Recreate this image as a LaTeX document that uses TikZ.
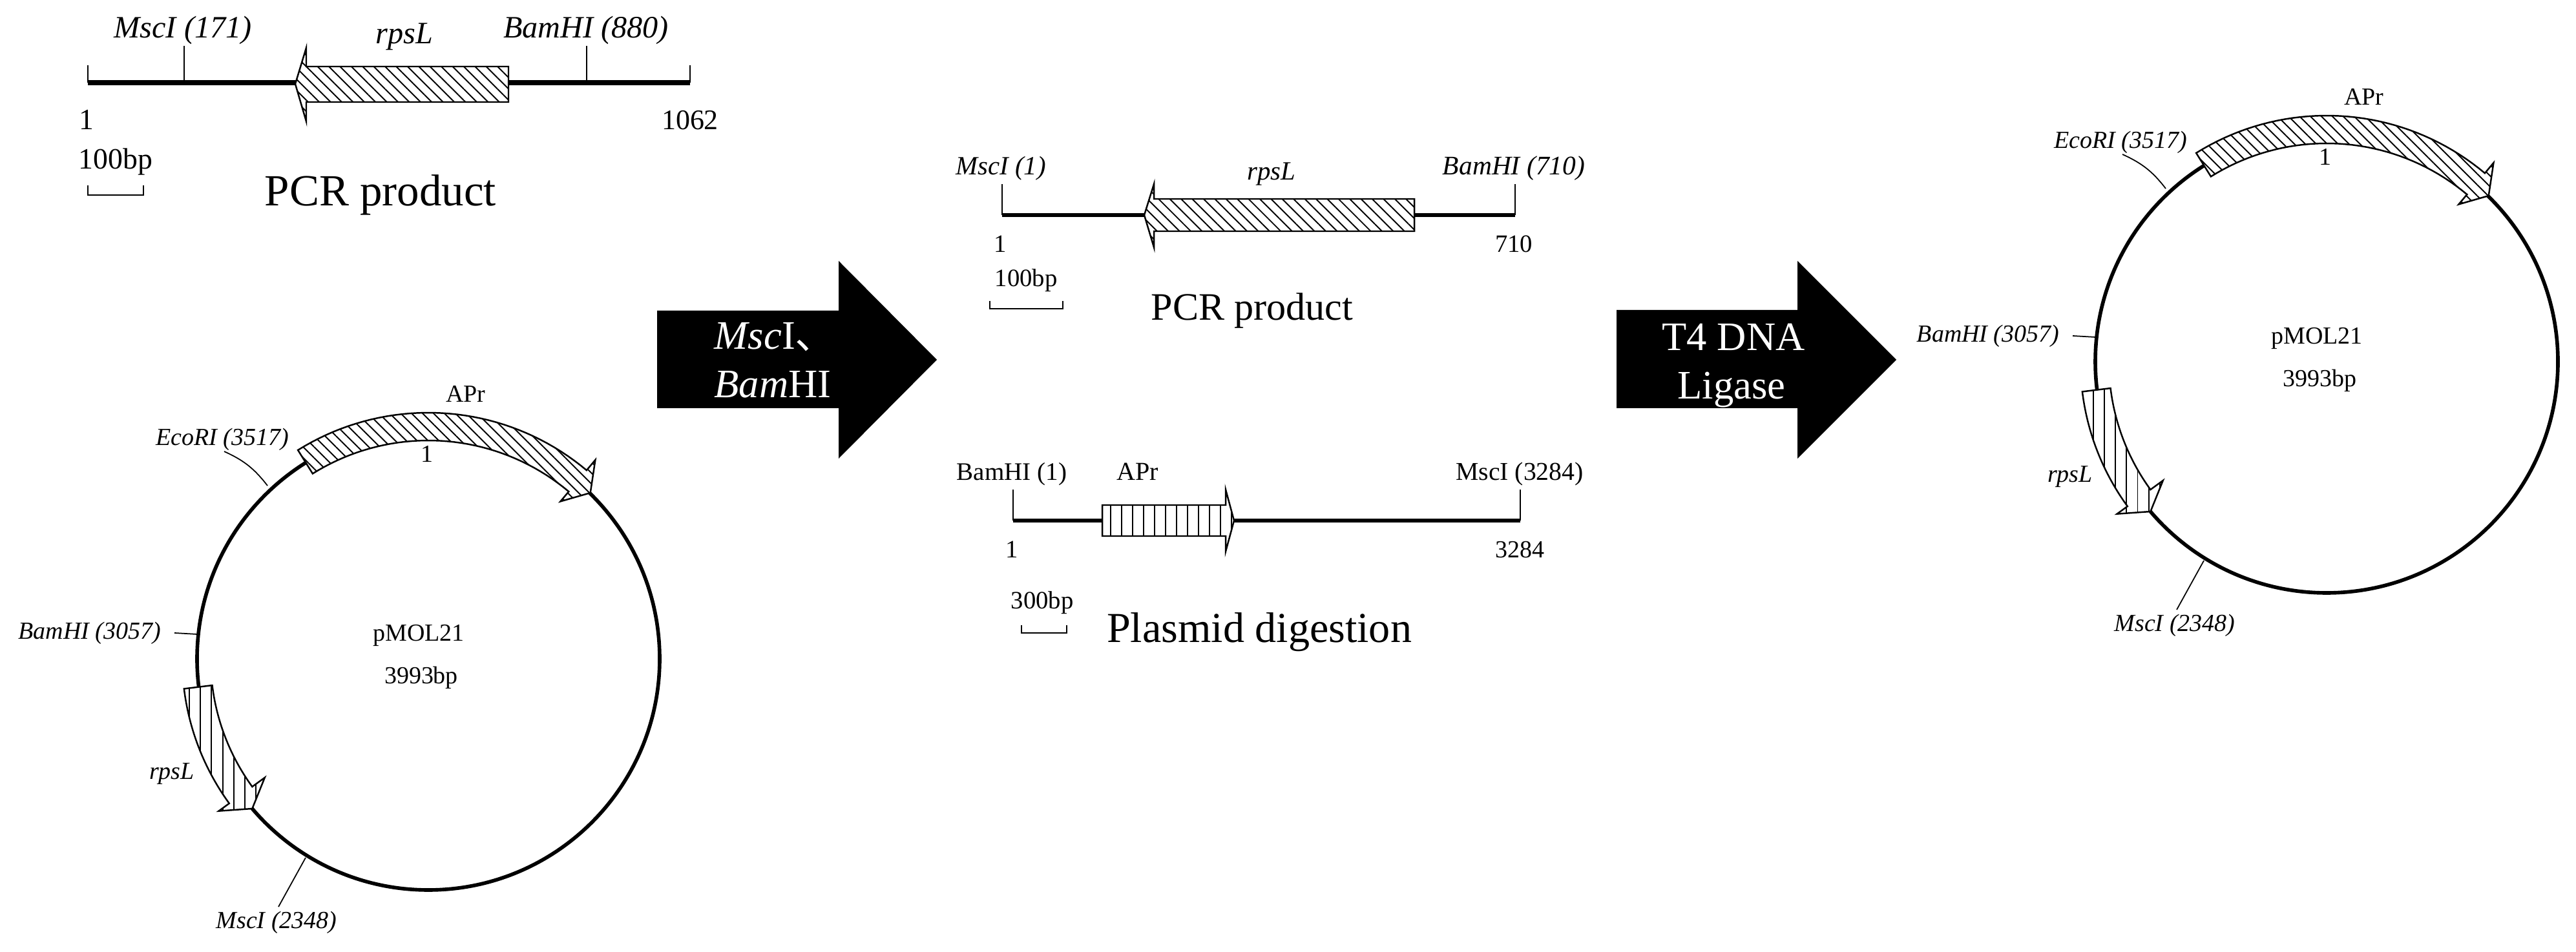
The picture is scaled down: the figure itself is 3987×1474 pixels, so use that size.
\documentclass[tikz,border=0pt]{standalone}
\usepackage{fontspec}
\setmainfont{Liberation Serif}
\newfontfamily\cjk{Noto Sans CJK SC}
\usetikzlibrary{patterns.meta}
\newcommand{\pxfont}[1]{\fontsize{#1}{#1}\selectfont}

\begin{document}
\begin{tikzpicture}[
  x=0.01cm, y=-0.01cm,
  lbl/.style={inner sep=0, anchor=base, font=\pxfont{#1}},
  lbl/.default=10.8,
  dna/.style={line width=#1, line cap=butt},
  dna/.default=1.5pt,
  tickline/.style={line width=0.7pt},
  gene/.style={draw, line width=0.7pt, fill=white},
  hatchdown/.style={postaction={pattern={Lines[angle=-45, distance=#1, line width=0.55pt]}}},
  hatchup/.style={postaction={pattern={Lines[angle=90, distance=#1, line width=0.55pt]}}},
  bigarrow/.style={fill=black},
  arrowtext/.style={inner sep=0, text=white, font=\pxfont{17.8}, align=#1},
]
\useasboundingbox (0,0) rectangle (3987,1474);

% PCR product, before digestion
\coordinate (a1) at (136,128);
\coordinate (a2) at (1068,128);
\coordinate (a3) at (285,128);
\coordinate (a4) at (908,128);
\draw[dna=2.3pt] (a1) -- (a2);
\draw[tickline] (a1) -- ++(0,-27);
\draw[tickline] (a2) -- ++(0,-27);
\draw[tickline] (a3) -- ++(0,-57);
\draw[tickline] (a4) -- ++(0,-57);
\draw[gene, hatchdown=3.5pt] (787,103) -- (474,103) -- (474,74) -- (457,130) -- (474,188) -- (474,158) -- (787,158) -- cycle;
\node[lbl=13.7] (mscA) at (283,59) {\textit{MscI (171)}};
\node[lbl=13.7] (rpsA) at (626,68) {\textit{rpsL}};
\node[lbl=13.7] (bamA) at (907,59) {\textit{BamHI (880)}};
\node[lbl=13] (startA) at (134,201) {1};
\node[lbl=12.5] (endA) at (1068,201) {1062};
\node[lbl=13] (barA) at (179,262) {100bp};
\node[lbl=19.6] (titleA) at (589,319) {PCR product};
\draw[tickline] (136,287) |- (222,302) -- (222,287);

% MscI / BamHI step
\fill[bigarrow] (1017,481) -- (1298,481) -- (1298,404) -- (1450,557) -- (1298,710) -- (1298,632) -- (1017,632) -- cycle;
\node[arrowtext=left, anchor=base west] (enzA) at (1105,541) {\textit{Msc}I{\cjk 、}};
\node[arrowtext=left, anchor=base west] (enzB) at (1105,616) {\textit{Bam}HI};

% PCR product, digested
\coordinate (b1) at (1551,333);
\coordinate (b2) at (2345,333);
\draw[dna] (b1) -- (b2);
\draw[tickline] (b1) -- ++(0,-48);
\draw[tickline] (b2) -- ++(0,-48);
\draw[gene, hatchdown=3.5pt] (2189,308) -- (1786,308) -- (1786,285) -- (1771,333) -- (1786,383) -- (1786,358) -- (2189,358) -- cycle;
\node[lbl=11.6] (mscB) at (1549,271) {\textit{MscI (1)}};
\node[lbl=11.6] (rpsB) at (1968,279) {\textit{rpsL}};
\node[lbl=11.8] (bamB) at (2343,271) {\textit{BamHI (710)}};
\node[lbl=11] (startB) at (1548,391) {1};
\node[lbl=11] (endB) at (2343,391) {710};
\node[lbl=11] (barB) at (1588,444) {100bp};
\node[lbl=17.1] (titleB) at (1938,496) {PCR product};
\draw[tickline] (1532,466) |- (1645,478) -- (1645,466);

% plasmid, digested
\coordinate (c1) at (1568,806);
\coordinate (c2) at (2353,806);
\draw[dna] (c1) -- (c2);
\draw[tickline] (c1) -- ++(0,-48);
\draw[tickline] (c2) -- ++(0,-48);
\draw[gene, hatchup=4.84pt] (1706,782) -- (1897,782) -- (1897,758) -- (1910,806) -- (1897,854) -- (1897,830) -- (1706,830) -- cycle;
\node[lbl=11.1] (bamC) at (1566,744) {BamHI (1)};
\node[lbl=11.4] (aprC) at (1761,744) {APr};
\node[lbl=11.3] (mscC) at (2352,744) {MscI (3284)};
\node[lbl=11] (startC) at (1566,864) {1};
\node[lbl=10.8] (endC) at (2352,864) {3284};
\node[lbl=11] (barC) at (1613,943) {300bp};
\node[lbl=18.8] (titleC) at (1949,995) {Plasmid digestion};
\draw[tickline] (1581,968) |- (1651,980) -- (1651,968);

% T4 DNA Ligase step
\fill[bigarrow] (2502,480) -- (2782,480) -- (2782,404) -- (2935,557) -- (2782,710) -- (2782,632) -- (2502,632) -- cycle;
\node[arrowtext=center, anchor=base] (ligA) at (2683,543) {T4 DNA};
\node[arrowtext=center, anchor=base] (ligB) at (2680,618) {Ligase};

% the plasmid map is the same twice
\foreach \pn/\cx/\cy in {dig/663/1020, lig/3601/560} {
  \begin{scope}[shift={(\cx,\cy)}]
    \draw[line width=1.6pt] (0,0) circle[radius=358];
    \draw[gene, hatchdown=3.4pt]
      plot[domain=-122:-50, samples=40] ({381*cos(\x)},{381*sin(\x)})
      -- (-50:402) -- (-45.7:359) -- (-50:318) -- (-50:338)
      -- plot[domain=-50:-122, samples=40] ({338*cos(\x)},{338*sin(\x)}) -- cycle;
    \draw[gene, hatchup=4.9pt]
      plot[domain=173:144, samples=30] ({381*cos(\x)},{381*sin(\x)})
      -- (144:401) -- (139.6:358) -- (144:313) -- (144:337)
      -- plot[domain=144:173, samples=30] ({337*cos(\x)},{337*sin(\x)}) -- cycle;
    \coordinate (\pn eco1) at (-249,-268);
    \coordinate (\pn eco2) at (-316,-321);
    \coordinate (\pn bam1) at (-358,-38);
    \coordinate (\pn bam2) at (-393,-40);
    \coordinate (\pn msc1) at (-190,308);
    \coordinate (\pn msc2) at (-232,384);
    \draw[line width=0.5pt] (\pn eco1) to[bend right=14] (\pn eco2);
    \draw[line width=0.5pt] (\pn bam1) -- (\pn bam2);
    \draw[line width=0.5pt] (\pn msc1) -- (\pn msc2);
    \node[lbl] (\pn apr) at (58,-397) {APr};
    \node[lbl] (\pn one) at (-2,-304) {1};
    \node[lbl] (\pn eco) at (-319,-330) {\textit{EcoRI (3517)}};
    \node[lbl] (\pn bam) at (-524,-30) {\textit{BamHI (3057)}};
    \node[lbl] (\pn name) at (-15,-27) {pMOL21};
    \node[lbl] (\pn size) at (-11,39) {3993bp};
    \node[lbl] (\pn rps) at (-397,187) {\textit{rpsL}};
    \node[lbl] (\pn msc) at (-235,418) {\textit{MscI (2348)}};
  \end{scope}
}
\end{tikzpicture}
\end{document}
